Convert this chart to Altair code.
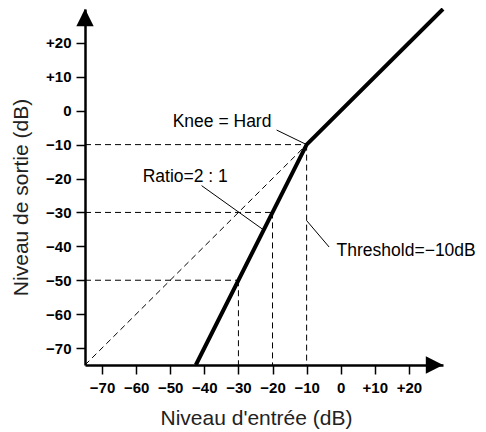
import altair as alt
import pandas as pd

# ---- data ----
tick_values = [-70, -60, -50, -40, -30, -20, -10, 0, 10, 20]
axis_min = -75
axis_max = 30

# transfer curve (input dB, output dB)
curve_in = [-42.5, -10, 30]
curve_out = [-75, -10, 30]

# dashed guides: start/end points
guide_x1 = [-75, -75, -75, -10, -20, -30, -75]
guide_y1 = [-10, -30, -50, -10, -30, -50, -75]
guide_x2 = [-10, -20, -30, -10, -20, -30, -10]
guide_y2 = [-10, -30, -50, -75, -75, -75, -10]

# annotation leader lines
leader_x1 = [-18.8, -40.8, -10]
leader_y1 = [-5.7, -22.1, -32.4]
leader_x2 = [-10, -22.7, -3.4]
leader_y2 = [-10, -35.1, -40.2]

# annotation labels
label_text = ["Knee = Hard", "Ratio=2 : 1", "Threshold=\u221210dB"]
label_x = [-34.8, -45.6, -1.2]
label_y = [-4.9, -21.1, -42.9]
label_align = ["center", "center", "left"]

# arrow heads
arrow_x = [27.5, -75]
arrow_y = [-75, 27.5]
arrow_dir = ["right", "up"]

FONT = "Liberation Sans"

xs = alt.Scale(domain=[axis_min, axis_max], nice=False, zero=False)
ys = alt.Scale(domain=[axis_min, axis_max], nice=False, zero=False)

label_expr = ("datum.value > 0 ? '+' + datum.value : "
              "(datum.value < 0 ? '\u2212' + (-datum.value) : '0')")

x_axis = alt.Axis(
    values=tick_values, labelExpr=label_expr, grid=False, labelOverlap=False,
    domainColor="black", domainWidth=2.5, tickColor="black", tickWidth=1.5,
    tickSize=9, labelFont=FONT, labelFontWeight="bold", labelFontSize=15,
    labelColor="black", labelPadding=6, labelFlush=False,
    title="Niveau d'entrée (dB)", titleFont=FONT, titleFontSize=21,
    titleFontWeight="normal", titleColor="#222", titleBaseline="alphabetic",
    titleX=171, titleY=59, titleAnchor="middle",
)
y_axis = alt.Axis(
    values=tick_values, labelExpr=label_expr, grid=False, labelOverlap=False,
    domainColor="black", domainWidth=2.5, tickColor="black", tickWidth=1.5,
    tickSize=9, labelFont=FONT, labelFontWeight="bold", labelFontSize=15,
    labelColor="black", labelPadding=5, labelFlush=False,
    title="Niveau de sortie (dB)", titleFont=FONT, titleFontSize=21,
    titleFontWeight="normal", titleColor="#222", titleBaseline="alphabetic",
    titleX=-58, titleY=188, titleAngle=270, titleAnchor="middle",
)

guides = pd.DataFrame({"x": guide_x1, "y": guide_y1, "x2": guide_x2, "y2": guide_y2})
leaders = pd.DataFrame({"x": leader_x1, "y": leader_y1, "x2": leader_x2, "y2": leader_y2})
curve = pd.DataFrame({"i": curve_in, "o": curve_out, "k": list(range(len(curve_in)))})
labels = pd.DataFrame({"t": label_text, "x": label_x, "y": label_y, "a": label_align})
arrows = pd.DataFrame({"x": arrow_x, "y": arrow_y, "d": arrow_dir})


def X(f):
    return alt.X(f, scale=xs, axis=x_axis)


def Y(f):
    return alt.Y(f, scale=ys, axis=y_axis)


guide_layer = alt.Chart(guides).mark_rule(
    color="black", strokeWidth=1, strokeDash=[6, 4]
).encode(x=X("x:Q"), y=Y("y:Q"), x2="x2:Q", y2="y2:Q")

curve_layer = alt.Chart(curve).mark_line(
    color="black", strokeWidth=4, strokeJoin="miter", strokeCap="butt"
).encode(x=X("i:Q"), y=Y("o:Q"), order="k:Q")

leader_layer = alt.Chart(leaders).mark_rule(color="black", strokeWidth=1).encode(
    x=X("x:Q"), y=Y("y:Q"), x2="x2:Q", y2="y2:Q"
)

text_center = alt.Chart(labels).transform_filter("datum.a == 'center'").mark_text(
    font=FONT, fontSize=17.5, color="black", align="center", baseline="alphabetic"
).encode(x=X("x:Q"), y=Y("y:Q"), text="t:N")

text_left = alt.Chart(labels).transform_filter("datum.a == 'left'").mark_text(
    font=FONT, fontSize=17.5, color="black", align="left", baseline="alphabetic"
).encode(x=X("x:Q"), y=Y("y:Q"), text="t:N")

arrow_right = alt.Chart(arrows).transform_filter("datum.d == 'right'").mark_point(
    shape="M-1,-1L1,0L-1,1Z", filled=True, color="black", opacity=1, size=300,
    strokeWidth=0
).encode(x=X("x:Q"), y=Y("y:Q"))

arrow_up = alt.Chart(arrows).transform_filter("datum.d == 'up'").mark_point(
    shape="M-1,1L0,-1L1,1Z", filled=True, color="black", opacity=1, size=300,
    strokeWidth=0
).encode(x=X("x:Q"), y=Y("y:Q"))

chart = alt.layer(
    guide_layer, leader_layer, curve_layer,
    text_center, text_left, arrow_right, arrow_up,
).properties(
    width=358, height=356,
    background="white",
    autosize=alt.AutoSizeParams(type="none"),
    padding={"left": 77, "top": 1, "right": 35, "bottom": 67},
).configure_view(stroke=None).configure_axis(labelOverlap=False)

chart.save("out.html", embed_options={"renderer": "svg", "actions": False})
